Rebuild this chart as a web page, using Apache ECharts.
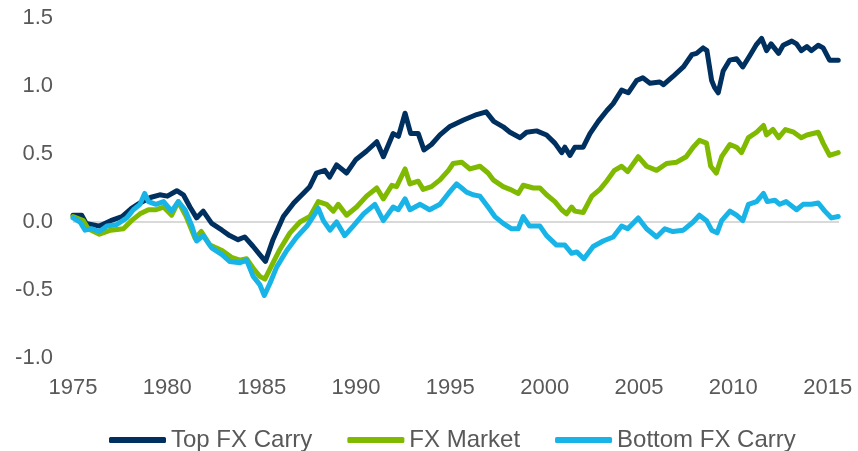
<!DOCTYPE html>
<html>
<head>
<meta charset="utf-8">
<script src="https://cdn.jsdelivr.net/npm/echarts@6/dist/echarts.min.js"></script>
<style>
  html, body { margin: 0; padding: 0; background: #fff; }
  #fx-chart { width: 858px; height: 451px; }
</style>
</head>
<body>
<div id="fx-chart"></div>
<script>
// series names
var seriesNames = ["Top FX Carry", "FX Market", "Bottom FX Carry"];

// Top FX Carry
var topYears = [1975.0, 1975.46, 1975.7, 1976.4, 1977.0, 1977.6, 1978.1, 1978.55, 1979.1, 1979.6,
  1980.0, 1980.5, 1980.85, 1981.2, 1981.55, 1981.9, 1982.35, 1982.9, 1983.3, 1983.75,
  1984.1, 1984.55, 1984.9, 1985.2, 1985.6, 1986.15, 1986.7, 1987.2, 1987.55, 1987.9,
  1988.35, 1988.6, 1988.97, 1989.5, 1990.0, 1990.55, 1991.1, 1991.45, 1991.97, 1992.25,
  1992.6, 1992.9, 1993.3, 1993.6, 1994.0, 1994.45, 1994.95, 1995.7, 1996.4, 1996.9,
  1997.3, 1997.8, 1998.16, 1998.7, 1999.04, 1999.57, 2000.1, 2000.54, 2000.9, 2001.07,
  2001.34, 2001.6, 2002.04, 2002.4, 2002.84, 2003.3, 2003.63, 2004.08, 2004.43, 2004.87,
  2005.2, 2005.58, 2006.1, 2006.3, 2006.8, 2007.35, 2007.8, 2008.05, 2008.4, 2008.6,
  2008.85, 2009.0, 2009.2, 2009.46, 2009.8, 2010.17, 2010.5, 2010.9, 2011.2, 2011.5,
  2011.76, 2012.0, 2012.4, 2012.64, 2013.1, 2013.35, 2013.6, 2013.9, 2014.14, 2014.5,
  2014.76, 2015.1, 2015.56];
var topValues = [0.05, 0.05, -0.01, -0.03, 0.01, 0.04, 0.10, 0.14, 0.18, 0.20,
  0.19, 0.23, 0.20, 0.11, 0.03, 0.08, -0.01, -0.06, -0.10, -0.13,
  -0.11, -0.18, -0.24, -0.29, -0.13, 0.04, 0.14, 0.21, 0.26, 0.36,
  0.38, 0.33, 0.42, 0.36, 0.46, 0.52, 0.59, 0.48, 0.65, 0.63,
  0.80, 0.65, 0.65, 0.53, 0.57, 0.64, 0.70, 0.75, 0.79, 0.81,
  0.74, 0.70, 0.66, 0.62, 0.66, 0.67, 0.64, 0.58, 0.51, 0.55,
  0.49, 0.55, 0.55, 0.65, 0.74, 0.82, 0.87, 0.97, 0.95, 1.04,
  1.06, 1.02, 1.03, 1.01, 1.07, 1.14, 1.23, 1.24, 1.28, 1.26,
  1.04, 0.99, 0.95, 1.11, 1.19, 1.20, 1.14, 1.23, 1.30, 1.35,
  1.26, 1.31, 1.24, 1.30, 1.33, 1.31, 1.26, 1.29, 1.26, 1.30,
  1.28, 1.19, 1.19];

// FX Market
var marketYears = [1975.0, 1975.55, 1975.8, 1976.4, 1977.0, 1977.67, 1978.1, 1978.55, 1979.0, 1979.4,
  1979.8, 1980.23, 1980.58, 1981.0, 1981.47, 1981.8, 1982.26, 1982.9, 1983.4, 1983.85,
  1984.2, 1984.55, 1984.9, 1985.17, 1985.6, 1985.97, 1986.5, 1987.03, 1987.56, 1988.0,
  1988.44, 1988.8, 1989.06, 1989.5, 1990.03, 1990.56, 1991.1, 1991.45, 1991.9, 1992.15,
  1992.6, 1992.86, 1993.3, 1993.56, 1994.0, 1994.45, 1994.9, 1995.15, 1995.6, 1996.04,
  1996.57, 1997.0, 1997.27, 1997.8, 1998.16, 1998.6, 1998.86, 1999.4, 1999.75, 2000.1,
  2000.54, 2000.9, 2001.16, 2001.43, 2001.6, 2002.04, 2002.5, 2002.93, 2003.28, 2003.7,
  2004.08, 2004.4, 2004.96, 2005.4, 2005.93, 2006.46, 2007.0, 2007.5, 2007.87, 2008.2,
  2008.58, 2008.8, 2009.1, 2009.38, 2009.82, 2010.17, 2010.43, 2010.8, 2011.23, 2011.6,
  2011.76, 2012.1, 2012.4, 2012.76, 2013.2, 2013.6, 2013.9, 2014.5, 2014.76, 2015.1,
  2015.56];
var marketValues = [0.04, 0.01, -0.05, -0.09, -0.06, -0.05, 0.01, 0.06, 0.09, 0.09,
  0.11, 0.05, 0.15, 0.04, -0.12, -0.07, -0.17, -0.21, -0.26, -0.28,
  -0.27, -0.34, -0.40, -0.42, -0.30, -0.20, -0.08, 0.00, 0.04, 0.15,
  0.13, 0.08, 0.13, 0.05, 0.11, 0.19, 0.25, 0.17, 0.27, 0.26,
  0.39, 0.28, 0.30, 0.24, 0.26, 0.31, 0.38, 0.43, 0.44, 0.39,
  0.41, 0.36, 0.31, 0.26, 0.24, 0.21, 0.27, 0.25, 0.25, 0.20,
  0.15, 0.09, 0.06, 0.11, 0.08, 0.07, 0.19, 0.24, 0.30, 0.38,
  0.41, 0.37, 0.48, 0.41, 0.38, 0.43, 0.44, 0.48, 0.55, 0.60,
  0.58, 0.41, 0.36, 0.48, 0.57, 0.55, 0.51, 0.62, 0.66, 0.71,
  0.64, 0.68, 0.62, 0.68, 0.66, 0.62, 0.64, 0.66, 0.58, 0.49,
  0.51];

// Bottom FX Carry
var bottomYears = [1975.0, 1975.37, 1975.64, 1976.0, 1976.4, 1976.8, 1977.3, 1977.85, 1978.2, 1978.55,
  1978.8, 1979.0, 1979.4, 1979.8, 1980.23, 1980.58, 1980.94, 1981.3, 1981.55, 1981.9,
  1982.35, 1982.9, 1983.3, 1983.85, 1984.2, 1984.55, 1984.9, 1985.14, 1985.44, 1985.8,
  1986.33, 1986.86, 1987.4, 1987.73, 1988.0, 1988.27, 1988.62, 1988.97, 1989.4, 1989.85,
  1990.4, 1991.0, 1991.45, 1991.97, 1992.24, 1992.6, 1992.86, 1993.4, 1993.9, 1994.45,
  1994.9, 1995.33, 1995.6, 1995.86, 1996.2, 1996.57, 1997.0, 1997.36, 1997.8, 1998.25,
  1998.6, 1998.86, 1999.2, 1999.75, 2000.1, 2000.63, 2001.07, 2001.43, 2001.7, 2002.08,
  2002.57, 2003.1, 2003.63, 2004.08, 2004.4, 2004.96, 2005.4, 2005.93, 2006.37, 2006.8,
  2007.35, 2007.87, 2008.2, 2008.58, 2008.85, 2009.14, 2009.38, 2009.82, 2010.17, 2010.5,
  2010.8, 2011.23, 2011.6, 2011.8, 2012.2, 2012.46, 2012.8, 2013.35, 2013.7, 2014.14,
  2014.5, 2014.85, 2015.2, 2015.56];
var bottomValues = [0.03, 0.00, -0.06, -0.05, -0.07, -0.03, -0.02, 0.03, 0.09, 0.13,
  0.21, 0.15, 0.13, 0.15, 0.08, 0.15, 0.09, -0.03, -0.14, -0.10,
  -0.19, -0.24, -0.29, -0.30, -0.28, -0.40, -0.46, -0.54, -0.45, -0.33,
  -0.21, -0.11, -0.03, 0.04, 0.10, 0.01, -0.06, 0.00, -0.10, -0.03,
  0.06, 0.13, 0.01, 0.11, 0.09, 0.17, 0.09, 0.13, 0.09, 0.13,
  0.21, 0.28, 0.25, 0.22, 0.20, 0.19, 0.11, 0.04, -0.01, -0.05,
  -0.05, 0.04, -0.03, -0.03, -0.10, -0.17, -0.17, -0.23, -0.22, -0.27,
  -0.18, -0.14, -0.11, -0.03, -0.05, 0.03, -0.05, -0.11, -0.05, -0.07,
  -0.06, 0.00, 0.05, 0.01, -0.06, -0.08, 0.01, 0.08, 0.05, 0.01,
  0.13, 0.15, 0.21, 0.15, 0.16, 0.13, 0.15, 0.09, 0.13, 0.13,
  0.14, 0.08, 0.03, 0.04];

var lineColors = ["#00305f", "#7fba00", "#18b4e8"];
var textGrey = "#595959";

function pairs(xs, ys) {
  return xs.map(function (x, i) { return [x, ys[i]]; });
}

var chart = echarts.init(document.getElementById("fx-chart"));

var option = {
  animation: false,
  color: lineColors,
  textStyle: { fontFamily: "Liberation Sans, Arial, sans-serif" },
  grid: { left: 73, right: 19, top: 18, bottom: 93 },
  legend: {
    data: seriesNames,
    top: 423,
    left: 104,
    icon: "roundRect",
    itemWidth: 57,
    itemHeight: 6,
    itemGap: 35,
    textStyle: { color: textGrey, fontSize: 24, padding: [0, 0, 0, 0] }
  },
  xAxis: {
    type: "value",
    min: 1975,
    max: 2015.6,
    interval: 5,
    axisLine: { show: false },
    axisTick: { show: false },
    splitLine: { show: false },
    axisLabel: {
      color: textGrey,
      fontSize: 22,
      margin: 19,
      formatter: function (v) { return v % 5 === 0 ? String(v) : ""; }
    }
  },
  yAxis: {
    type: "value",
    min: -1,
    max: 1.5,
    interval: 0.5,
    axisLine: { show: false },
    axisTick: { show: false },
    axisLabel: {
      color: textGrey,
      fontSize: 22,
      margin: 20,
      formatter: function (v) { return v.toFixed(1); }
    },
    // only the zero line is visible
    splitLine: {
      show: true,
      lineStyle: {
        width: 2,
        color: ["rgba(0,0,0,0)", "rgba(0,0,0,0)", "#d9d9d9", "rgba(0,0,0,0)", "rgba(0,0,0,0)", "rgba(0,0,0,0)"]
      }
    }
  },
  series: [
    {
      name: seriesNames[0],
      type: "line",
      showSymbol: false,
      lineStyle: { width: 5, cap: "round", join: "round" },
      data: pairs(topYears, topValues)
    },
    {
      name: seriesNames[1],
      type: "line",
      showSymbol: false,
      lineStyle: { width: 5, cap: "round", join: "round" },
      data: pairs(marketYears, marketValues)
    },
    {
      name: seriesNames[2],
      type: "line",
      showSymbol: false,
      lineStyle: { width: 5, cap: "round", join: "round" },
      data: pairs(bottomYears, bottomValues)
    }
  ]
};

chart.setOption(option);
</script>
</body>
</html>
